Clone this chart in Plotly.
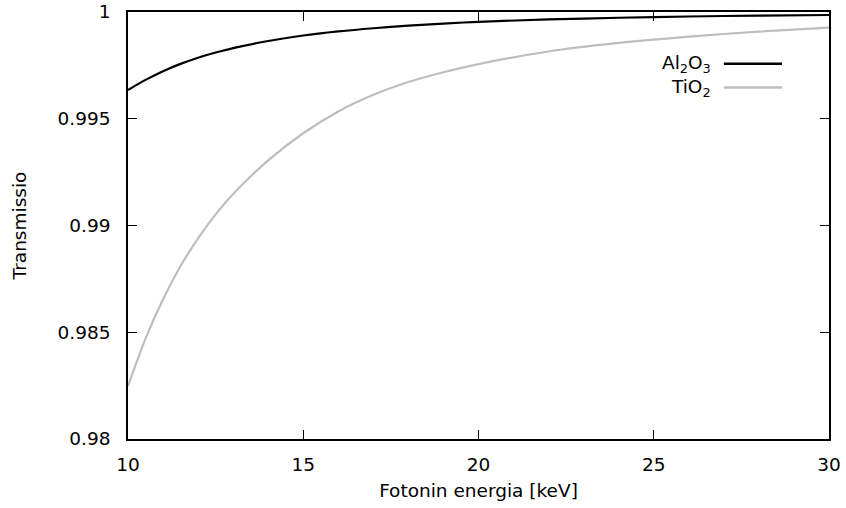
import plotly.graph_objects as go

# Photon energy [keV]
energy = [10, 10.5, 11, 11.5, 12, 12.5, 13, 14, 15, 16, 17, 18, 19, 20, 22, 24, 26, 28, 30]

# Transmission values
al2o3 = [0.99635, 0.99682, 0.99723, 0.99757, 0.99786, 0.99810, 0.99831, 0.99864,
         0.99890, 0.99909, 0.99924, 0.99936, 0.99946, 0.99954, 0.99965, 0.99973,
         0.99979, 0.99983, 0.99986]
tio2 = [0.98248, 0.98470, 0.98655, 0.98810, 0.98940, 0.99052, 0.99148, 0.99305,
        0.99432, 0.99534, 0.99612, 0.99672, 0.99718, 0.99756, 0.99815, 0.99855,
        0.99885, 0.99908, 0.99927]

x_ticks = [10, 15, 20, 25, 30]
y_ticks = [0.98, 0.985, 0.99, 0.995, 1.0]
y_tick_text = ["0.98", "0.985", "0.99", "0.995", "1"]

series_names = ["Al<sub>2</sub>O<sub>3</sub>", "TiO<sub>2</sub>"]
series_colors = ["#000000", "#bebebe"]

FONT = "DejaVu Sans"
FS = 18.5

fig = go.Figure()
for name, ys, col in zip(series_names, [al2o3, tio2], series_colors):
    fig.add_trace(go.Scatter(x=energy, y=ys, mode="lines", name=name,
                             line=dict(color=col, width=2.2, shape="spline", smoothing=0.8),
                             showlegend=False))

# gnuplot-style legend: text on the left, sample line on the right
leg_y = [0.879, 0.823]
for name, col, yy in zip(series_names, series_colors, leg_y):
    fig.add_annotation(x=0.834, y=yy, xref="paper", yref="paper", text=name,
                       showarrow=False, xanchor="right", yanchor="middle",
                       font=dict(family=FONT, size=FS, color="#000000"))
    fig.add_shape(type="line", xref="paper", yref="paper", x0=0.850, x1=0.933,
                  y0=yy, y1=yy, line=dict(color=col, width=2.5))

axis_common = dict(showline=True, linecolor="#000000", linewidth=1.5, mirror="ticks",
                   ticks="inside", ticklen=9, tickwidth=1.2, tickcolor="#000000",
                   showgrid=False, zeroline=False, automargin=False,
                   tickfont=dict(family=FONT, size=FS, color="#000000"))

fig.update_xaxes(range=[10, 30], tickvals=x_ticks, ticklabelstandoff=8,
                 title=dict(text="Fotonin energia [keV]", standoff=10,
                            font=dict(family=FONT, size=FS, color="#000000")),
                 **axis_common)
fig.update_yaxes(range=[0.98, 1.0], tickvals=y_ticks, ticktext=y_tick_text,
                 ticklabelstandoff=12,
                 title=dict(text="Transmissio", standoff=26,
                            font=dict(family=FONT, size=FS, color="#000000")),
                 **axis_common)

fig.update_layout(width=846, height=508, margin=dict(l=128, r=17, t=12, b=69),
                  plot_bgcolor="#ffffff", paper_bgcolor="#ffffff",
                  font=dict(family=FONT, size=FS, color="#000000"))

fig.write_html("out.html")
